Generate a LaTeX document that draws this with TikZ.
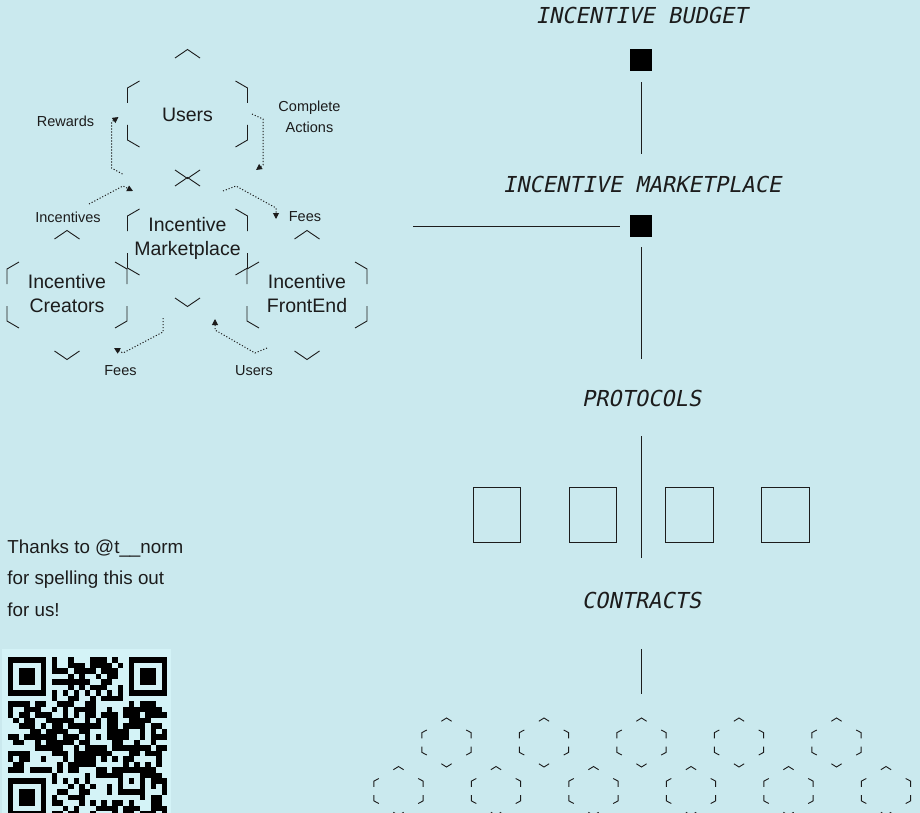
\documentclass[tikz,border=0pt]{standalone}
\usepackage{fontspec}
\setmainfont{Liberation Sans}
\newfontfamily\codefont[FakeSlant=0.2]{DejaVu Sans Mono}
\usepackage{xcolor}
\usetikzlibrary{arrows.meta, positioning}

\definecolor{sky}{HTML}{CAE9EE}
\definecolor{qrsky}{HTML}{D4F3F7}
\definecolor{ink}{HTML}{1C1C1C}

% broken hexagon outline, drawn as six corner pieces
\newcommand{\hexframe}[4]{%
  \begin{scope}[shift={(#1,#2)}, xscale=#3, yscale=#4]
    \draw (-12.5,-56) -- (0,-64.5) -- (12.5,-56);
    \draw (-48,-33) -- (-60,-26) -- (-60,-11);
    \draw (48,-33) -- (60,-26) -- (60,-11);
    \draw (-60,11) -- (-60,26) -- (-48,33);
    \draw (60,11) -- (60,26) -- (48,33);
    \draw (-12.5,56) -- (0,64.5) -- (12.5,56);
  \end{scope}}

\begin{document}
\begin{tikzpicture}[x=1pt, y=-1pt, line width=0.9pt, ink,
    hexlabel/.style={font=\fontsize{19.5}{24}\selectfont, align=center, inner sep=0pt},
    tag/.style={font=\fontsize{14.5}{21}\selectfont, align=center, inner sep=0pt},
    caps/.style={font=\codefont\fontsize{22}{24}\selectfont, inner sep=0pt},
    flow/.style={line width=1pt, dash pattern=on 1.1pt off 1.9pt,
      -{Triangle[length=6pt, width=6pt]}},
    blk/.style={fill=black, minimum size=22pt, inner sep=0pt},
    protobox/.style={draw, line width=1pt, minimum width=47.5pt, minimum height=55pt, inner sep=0pt},
    qrdot/.style={fill=black}]
  \clip (0,0) rectangle (920,813);
  \fill[sky] (0,0) rectangle (920,813);

  % marketplace hexagons
  \hexframe{187.5}{114}{1}{1}
  \hexframe{187.5}{242}{1}{1}
  \hexframe{67}{295}{1}{1}
  \hexframe{307}{295}{1}{1}

  \node[hexlabel] (users) at (187.5,115) {Users};
  \node[hexlabel] (market) at (187.5,238) {Incentive\\Marketplace};
  \node[hexlabel] (creators) at (67,294) {Incentive\\Creators};
  \node[hexlabel] (frontend) at (307,294) {Incentive\\FrontEnd};

  \node[tag] (rewards) at (65.5,121.5) {Rewards};
  \node[tag] (actions) at (309.5,117) {Complete\\Actions};
  \node[tag] (incentives) at (68,217) {Incentives};
  \node[tag] (feesup) at (305,217) {Fees};
  \node[tag] (feesdown) at (120.5,370.5) {Fees};
  \node[tag] (usersdown) at (254,370.5) {Users};

  \draw[flow] ([shift={(-65,59)}]users.center) -- ++(-11,-6) -- ++(0,-46) -- ++(7,-5);
  \draw[flow] ([shift={(64.5,-1)}]users.center) -- ++(11,5) -- ++(0,46) -- ++(-7,5);
  \draw[flow] ([shift={(-98.5,-34)}]market.center) -- ++(34,-18) -- ++(10,5);
  \draw[flow] ([shift={(35.5,-47)}]market.center) -- ++(13,-5) -- ++(40,22) -- ++(0,11);
  \draw[flow] ([shift={(-24.5,80)}]market.center) -- ++(0,14) -- ++(-40,21) -- ++(-9,-5);
  \draw[flow] ([shift={(79.5,110)}]market.center) -- ++(-12,5) -- ++(-40,-23) -- ++(0,-11);

  % stack on the right
  \node[caps] (budget) at (641.5,15) {INCENTIVE BUDGET};
  \node[blk] (budgetsq) at (641,60) {};
  \draw (budgetsq.south) ++(0,11) -- ++(0,72);
  \node[caps] (mplace) at (642,184.5) {INCENTIVE MARKETPLACE};
  \node[blk] (mplacesq) at (641,226) {};
  \draw (mplacesq.west) ++(-10,0) -- ++(-207,0);
  \draw (mplacesq.south) ++(0,10) -- ++(0,112);
  \node[caps] (protocols) at (641.5,398) {PROTOCOLS};
  \draw (protocols.center) ++(0,38) -- ++(0,122);
  \foreach \px [count=\k] in {497,593,689.5,785.5}
    \node[protobox] (proto\k) at (\px,514.5) {};
  \node[caps] (contracts) at (641.5,600.5) {CONTRACTS};
  \draw (contracts.center) ++(0,48.5) -- ++(0,45);

  \foreach \k in {0,...,4}{
    \hexframe{446.5+97.5*\k}{742.5}{0.41}{0.38}
  }
  \foreach \k in {0,...,5}{
    \hexframe{398.5+97.5*\k}{791}{0.41}{0.38}
  }

  % thanks note
  \node[font=\fontsize{18.8}{31.5}\selectfont, align=left, anchor=north west, inner sep=0pt]
    (thanks) at (7,539) {Thanks to @t\_\_norm\\for spelling this out\\for us!};

  % qr code
  \fill[qrsky] (2,649) rectangle (171,813);
  \pgfmathsetseed{2718}
  \foreach \r in {0,...,28}{
    \foreach \c in {0,...,28}{
      \pgfmathtruncatemacro\on{((\r<8 && \c<8) || (\r<8 && \c>20) || (\r>20 && \c<8)
        || (\r>19 && \r<25 && \c>19 && \c<25) || \r==6 || \c==6) ? 0 : (rnd<0.55 ? 1 : 0)}
      \ifnum\on=1
        \fill[qrdot] (7.5+5.5*\c,657+5.5*\r) rectangle ++(5.5,5.5);
      \fi
    }
  }
  \foreach \t in {8,10,...,20}{
    \fill[qrdot] (7.5+5.5*\t,657+5.5*6) rectangle ++(5.5,5.5);
    \fill[qrdot] (7.5+5.5*6,657+5.5*\t) rectangle ++(5.5,5.5);
  }
  \foreach \fr/\fc in {0/0,0/22,22/0}{
    \fill[qrdot] (7.5+5.5*\fc,657+5.5*\fr) rectangle ++(38.5,38.5);
    \fill[qrsky] (7.5+5.5*\fc+5.5,657+5.5*\fr+5.5) rectangle ++(27.5,27.5);
    \fill[qrdot] (7.5+5.5*\fc+11,657+5.5*\fr+11) rectangle ++(16.5,16.5);
  }
  \fill[qrdot] (7.5+5.5*20,657+5.5*20) rectangle ++(27.5,27.5);
  \fill[qrsky] (7.5+5.5*21,657+5.5*21) rectangle ++(16.5,16.5);
  \fill[qrdot] (7.5+5.5*22,657+5.5*22) rectangle ++(5.5,5.5);
\end{tikzpicture}
\end{document}
